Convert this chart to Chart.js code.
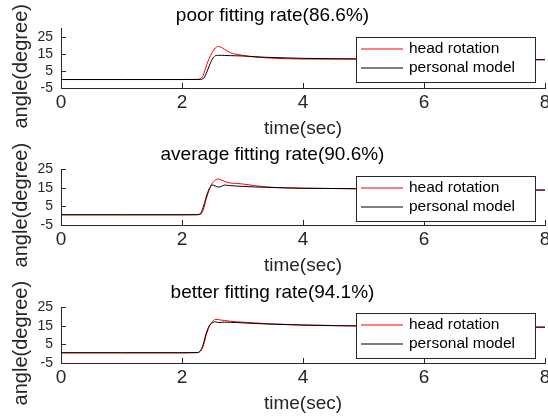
<!DOCTYPE html>
<html>
<head>
<meta charset="utf-8">
<script src="https://cdn.jsdelivr.net/npm/chart.js@4.4.1/dist/chart.umd.min.js"></script>
<style>
  html, body { margin: 0; padding: 0; background: #fff; overflow: hidden; }
  body { width: 548px; height: 418px; position: relative; }
  .panel { position: absolute; left: 0; width: 548px; height: 140px; }
</style>
</head>
<body>
<div class="panel" style="top:0px"><canvas id="poorChart"></canvas></div>
<div class="panel" style="top:137px"><canvas id="averageChart"></canvas></div>
<div class="panel" style="top:275px"><canvas id="betterChart"></canvas></div>
<script>
// данные
const timeTicks = [0, 2, 4, 6, 8];
const angleTicks = [-5, 5, 15, 25];
const seriesNames = ['head rotation', 'personal model'];
const panelTitles = ['poor fitting rate(86.6%)', 'average fitting rate(90.6%)', 'better fitting rate(94.1%)'];

const timeSec = [0, 1, 2, 2.25, 2.3, 2.35, 2.4, 2.45, 2.5, 2.55, 2.6, 2.65, 2.7, 2.8, 2.9, 3.0, 3.2, 3.4, 3.7, 4.0, 5.0, 6.0, 7.0, 8.0];

const poorHead  = [0, 0, 0, 0.1, 0.4, 2.5, 8, 12.5, 16, 18.6, 19.5, 19, 17.9, 15.8, 14.9, 14.3, 13.3, 12.8, 12.3, 12.1, 12.0, 11.9, 11.8, 11.7];
const poorModel = [0, 0, 0, 0, 0.1, 0.5, 3.5, 8, 12, 14, 14.3, 14.3, 14.2, 14.1, 14.0, 13.9, 13.5, 13.1, 12.8, 12.5, 12.2, 12.0, 11.9, 11.7];

const averageHead  = [0.5, 0.5, 0.5, 0.5, 0.7, 3, 9, 14, 17.5, 19.2, 19.8, 19.3, 18.6, 17.6, 17.4, 17.1, 16.2, 15.5, 15.0, 14.8, 14.5, 14.2, 14.0, 13.8];
const averageModel = [0.5, 0.5, 0.5, 0.6, 1.0, 4.5, 10, 14.5, 16.6, 16.0, 15.4, 15.8, 16.5, 16.2, 16.0, 15.8, 15.5, 15.3, 15.0, 14.8, 14.5, 14.2, 14.0, 13.8];

const betterHead  = [0.5, 0.5, 0.5, 0.6, 1.2, 4, 10, 14.5, 17.2, 18.5, 18.4, 18.1, 17.9, 17.5, 17.2, 17.0, 16.6, 16.2, 15.8, 15.5, 15.0, 14.7, 14.5, 14.3];
const betterModel = [0.5, 0.5, 0.5, 0.6, 1.5, 5, 11, 15, 16.6, 17.2, 16.8, 16.9, 17.0, 16.9, 16.8, 16.6, 16.3, 16.0, 15.7, 15.4, 14.9, 14.7, 14.5, 14.3];

const FONT = "'Liberation Sans', Arial, sans-serif";
const AXIS_COLOR = '#262626';
Chart.defaults.font.family = FONT;

// оси в стиле MATLAB: засечки внутрь и подпись оси Y
const matlabAxes = {
    id: 'matlabAxes',
    afterDatasetsDraw(chart, args, opts) {
        const { ctx, chartArea: a, scales: { x, y } } = chart;
        ctx.save();
        ctx.strokeStyle = AXIS_COLOR;
        ctx.lineWidth = 1;
        ctx.beginPath();
        x.ticks.forEach(t => {
            const px = Math.round(x.getPixelForValue(t.value)) + 0.5;
            ctx.moveTo(px, a.bottom);
            ctx.lineTo(px, a.bottom - 5);
        });
        y.ticks.forEach(t => {
            const py = Math.round(y.getPixelForValue(t.value)) + 0.5;
            ctx.moveTo(a.left, py);
            ctx.lineTo(a.left + 5, py);
        });
        ctx.stroke();
        ctx.translate(27, (a.top + a.bottom) / 2 + 8);
        ctx.rotate(-Math.PI / 2);
        ctx.font = '20px ' + FONT;
        ctx.fillStyle = AXIS_COLOR;
        ctx.textAlign = 'center';
        ctx.textBaseline = 'alphabetic';
        ctx.fillText(opts.yTitle, 0, 0);
        ctx.restore();
    }
};

// легенда в рамке внутри области графика
const boxLegend = {
    id: 'boxLegend',
    afterDatasetsDraw(chart, args, opts) {
        const { ctx, chartArea: a } = chart;
        const w = 179, h = 45;
        const left = Math.round(a.right - 10 - w);
        const top = Math.round(a.top + opts.top);
        ctx.save();
        ctx.fillStyle = '#fff';
        ctx.fillRect(left, top, w, h);
        ctx.strokeStyle = AXIS_COLOR;
        ctx.lineWidth = 1;
        ctx.strokeRect(left + 0.5, top + 0.5, w, h);
        ctx.font = '15.5px ' + FONT;
        ctx.textBaseline = 'middle';
        ctx.fillStyle = '#000';
        chart.data.datasets.forEach((ds, i) => {
            const cy = top + 12 + i * 19;
            ctx.strokeStyle = ds.borderColor;
            ctx.lineWidth = 1.2;
            ctx.beginPath();
            ctx.moveTo(left + 5, cy);
            ctx.lineTo(left + 47, cy);
            ctx.stroke();
            ctx.fillText(ds.label, left + 53, cy);
        });
        ctx.restore();
    }
};

function toPoints(values) {
    return values.map((v, i) => ({ x: timeSec[i], y: v }));
}

function makePanel(id, title, head, model, yMax, titlePad, legendTop) {
    const ctx = document.getElementById(id).getContext('2d');
    return new Chart(ctx, {
        type: 'line',
        data: {
            datasets: [{
                label: seriesNames[0],
                data: toPoints(head),
                borderColor: '#ff0000',
                borderWidth: 1,
                pointRadius: 0,
                cubicInterpolationMode: 'monotone',
                order: 1
            }, {
                label: seriesNames[1],
                data: toPoints(model),
                borderColor: '#000000',
                borderWidth: 1,
                pointRadius: 0,
                cubicInterpolationMode: 'monotone',
                order: 0
            }]
        },
        options: {
            responsive: true,
            maintainAspectRatio: false,
            animation: false,
            events: [],
            layout: { padding: { left: 0, right: 3, top: 0, bottom: 0 } },
            plugins: {
                legend: { display: false },
                tooltip: { enabled: false },
                title: {
                    display: true,
                    text: title,
                    color: '#000',
                    font: { size: 19, weight: 'normal' },
                    padding: titlePad
                },
                boxLegend: { top: legendTop },
                matlabAxes: { yTitle: 'angle(degree)' }
            },
            scales: {
                x: {
                    type: 'linear',
                    min: 0,
                    max: 8,
                    afterBuildTicks: s => { s.ticks = timeTicks.map(v => ({ value: v })); },
                    afterFit: s => { s.height = 52; s.paddingLeft = 0; s.paddingRight = 0; },
                    grid: { drawOnChartArea: false, drawTicks: false },
                    border: { display: true, color: AXIS_COLOR, width: 1 },
                    ticks: { color: AXIS_COLOR, font: { size: 19 }, padding: 3, maxRotation: 0, autoSkip: false },
                    title: {
                        display: true,
                        text: 'time(sec)',
                        color: AXIS_COLOR,
                        font: { size: 19 },
                        padding: { top: 0, bottom: 0 }
                    }
                },
                y: {
                    min: -5,
                    max: yMax,
                    afterBuildTicks: s => { s.ticks = angleTicks.map(v => ({ value: v })); },
                    afterFit: s => { s.width = 61; s.paddingTop = 0; s.paddingBottom = 0; },
                    grid: { drawOnChartArea: false, drawTicks: false },
                    border: { display: true, color: AXIS_COLOR, width: 1 },
                    ticks: { color: AXIS_COLOR, font: { size: 14 }, padding: 8, autoSkip: false }
                }
            }
        },
        plugins: [matlabAxes, boxLegend]
    });
}

makePanel('poorChart', panelTitles[0], poorHead, poorModel, 30, { top: 4.6, bottom: 1.3 }, 8.6);
makePanel('averageChart', panelTitles[1], averageHead, averageModel, 25, { top: 6.6, bottom: 2.9 }, 6.4);
makePanel('betterChart', panelTitles[2], betterHead, betterModel, 25, { top: 6, bottom: 3.5 }, 6);
</script>
</body>
</html>
